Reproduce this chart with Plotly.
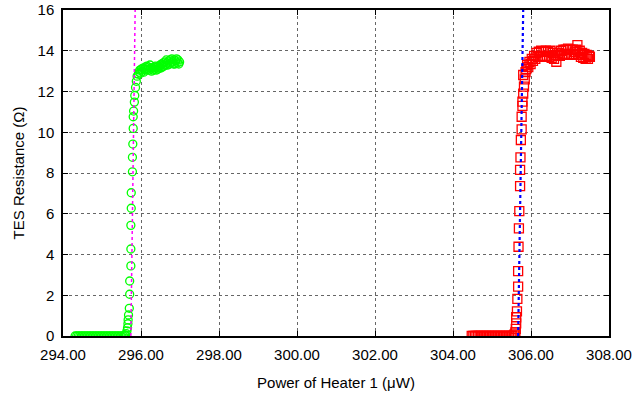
import plotly.graph_objects as go

# ---- Data: heater 1 sweep, first TES (green circles) ----
green_x = [294.31, 294.35, 294.39, 294.43, 294.47, 294.51, 294.55, 294.59, 294.63, 294.67,
           294.71, 294.75, 294.79, 294.83, 294.87, 294.91, 294.95, 294.99, 295.03, 295.07,
           295.11, 295.15, 295.19, 295.23, 295.27, 295.31, 295.35, 295.39, 295.43, 295.47,
           295.51, 295.55, 295.58, 295.60, 295.62, 295.64, 295.655, 295.665, 295.67, 295.68,
           295.70, 295.71, 295.71, 295.74, 295.74, 295.74, 295.75, 295.75, 295.78, 295.78,
           295.79, 295.80, 295.80, 295.81, 295.83, 295.84, 295.86, 295.88, 295.90, 295.93,
           295.95, 295.97, 295.99, 296.01, 296.03, 296.05, 296.07, 296.09, 296.11, 296.13,
           296.15, 296.17, 296.19, 296.21, 296.23, 296.25, 296.27, 296.29, 296.31, 296.33,
           296.35, 296.37, 296.39, 296.41, 296.43, 296.45, 296.47, 296.49, 296.51, 296.53,
           296.55, 296.57, 296.59, 296.61, 296.63, 296.65, 296.67, 296.69, 296.71, 296.73,
           296.75, 296.77, 296.79, 296.81, 296.83, 296.85, 296.87, 296.89, 296.91, 296.93,
           296.95, 296.97, 296.99]
green_r = [0, 0, 0, 0, 0, 0, 0, 0, 0, 0,
           0, 0, 0, 0, 0, 0, 0, 0, 0, 0,
           0, 0, 0, 0, 0, 0, 0, 0, 0, 0,
           0, 0.01, 0.03, 0.06, 0.12, 0.25, 0.4, 0.6, 0.79, 1.03,
           1.36, 2.05, 2.70, 3.44, 4.27, 5.43, 6.27, 7.03, 8.06, 8.77,
           9.42, 10.19, 10.76, 11.04, 11.48, 11.8, 12.2, 12.5, 12.75, 12.85,
           12.95, 13.05, 12.9, 13.1, 13.0, 13.15, 12.95, 13.1, 13.2, 13.05,
           13.25, 13.1, 13.2, 13.05, 13.3, 13.15, 13.0, 13.15, 13.05, 13.2,
           13.1, 13.25, 13.05, 13.2, 13.1, 13.25, 13.15, 13.3, 13.15, 13.35,
           13.2, 13.4, 13.25, 13.45, 13.3, 13.55, 13.4, 13.3, 13.5, 13.35,
           13.55, 13.4, 13.6, 13.45, 13.35, 13.55, 13.35, 13.5, 13.6, 13.4,
           13.55, 13.35, 13.45]

# ---- Data: second TES (red squares) ----
red_x = [304.48, 304.52, 304.56, 304.60, 304.64, 304.68, 304.72, 304.76, 304.80, 304.84,
         304.88, 304.92, 304.96, 305.00, 305.04, 305.08, 305.12, 305.16, 305.20, 305.24,
         305.28, 305.32, 305.36, 305.40, 305.44, 305.48, 305.52, 305.56, 305.58, 305.60,
         305.61, 305.62, 305.62, 305.64, 305.65, 305.67, 305.67, 305.68, 305.69, 305.70,
         305.72, 305.72, 305.73, 305.74, 305.76, 305.76, 305.78, 305.78, 305.80, 305.82,
         305.80, 305.84, 305.86, 305.88, 305.90, 305.93, 305.96, 305.99, 306.02, 306.05,
         306.08, 306.11, 306.14, 306.17, 306.20, 306.23, 306.26, 306.29, 306.32, 306.35,
         306.38, 306.41, 306.44, 306.47, 306.50, 306.53, 306.56, 306.59, 306.62, 306.65,
         306.68, 306.71, 306.74, 306.77, 306.80, 306.83, 306.86, 306.89, 306.92, 306.95,
         306.98, 307.01, 307.04, 307.07, 307.10, 307.13, 307.16, 307.19, 307.22, 307.25,
         307.28, 307.31, 307.34, 307.37, 307.40, 307.43, 307.46, 307.49, 307.51]
red_r = [0, 0, 0, 0, 0, 0, 0, 0, 0, 0,
         0, 0, 0, 0, 0, 0, 0, 0, 0, 0,
         0, 0, 0, 0, 0, 0, 0.01, 0.03, 0.08, 0.18,
         0.35, 0.62, 0.92, 1.21, 1.82, 2.42, 3.18, 4.38, 5.28, 6.13,
         7.36, 8.15, 8.77, 9.62, 10.14, 10.76, 11.29, 11.5, 11.9, 12.24,
         12.81, 12.6, 12.95, 13.1, 13.3, 13.2, 13.45, 13.35, 13.6, 13.5,
         13.75, 13.6, 13.9, 13.7, 13.95, 13.7, 14.0, 13.75, 13.95, 13.7,
         14.0, 13.75, 13.95, 13.7, 14.0, 13.65, 13.9, 13.6, 13.8, 13.46,
         13.75, 13.9, 13.75, 14.0, 13.8, 14.05, 13.85, 14.05, 13.8, 14.1,
         13.85, 14.05, 13.8, 14.05, 13.85, 13.95, 14.05, 14.28, 13.8, 14.0,
         13.7, 13.9, 13.65, 13.85, 13.6, 13.8, 13.6, 13.75, 13.7]

# ---- Fit lines (transition slopes) ----
fit1_x = [295.74, 295.85]
fit1_r = [0, 16]
fit2_x = [305.67, 305.80]
fit2_r = [0, 16]

x_ticks = [294, 296, 298, 300, 302, 304, 306, 308]
x_tick_labels = ["294.00", "296.00", "298.00", "300.00", "302.00", "304.00", "306.00", "308.00"]
y_ticks = [0, 2, 4, 6, 8, 10, 12, 14, 16]

fig = go.Figure()
fig.add_trace(go.Scatter(x=green_x, y=green_r, mode="markers",
                         marker=dict(symbol="circle-open", size=8, color="#00ff00",
                                     line=dict(width=1.3, color="#00ff00"))))
fig.add_trace(go.Scatter(x=red_x, y=red_r, mode="markers",
                         marker=dict(symbol="square-open", size=9, color="#ff0000",
                                     line=dict(width=1.3, color="#ff0000"))))
fig.add_trace(go.Scatter(x=fit1_x, y=fit1_r, mode="lines",
                         line=dict(color="#ff00ff", width=1.5, dash="dot")))
fig.add_trace(go.Scatter(x=fit2_x, y=fit2_r, mode="lines",
                         line=dict(color="#0000ff", width=2.2, dash="dot")))

font = "Liberation Sans, Arial, Helvetica, sans-serif"
fig.update_layout(
    width=635, height=395,
    margin=dict(l=63, r=26, t=10, b=59, autoexpand=False),
    paper_bgcolor="white", plot_bgcolor="white",
    showlegend=False,
    font=dict(family=font, size=15, color="black"),
    xaxis=dict(range=[294, 308], tickvals=x_ticks, ticktext=x_tick_labels,
               ticks="inside", ticklen=5, tickcolor="black", mirror="ticks",
               showline=True, linecolor="black", linewidth=1.5,
               showgrid=True, gridcolor="#666666", griddash="dot", gridwidth=1,
               zeroline=False, automargin=False, ticklabelstandoff=4,
               title=dict(text="Power of Heater 1 (\u03bcW)", font=dict(size=15), standoff=16)),
    yaxis=dict(range=[0, 16], tickvals=y_ticks,
               ticks="inside", ticklen=5, tickcolor="black", mirror="ticks",
               showline=True, linecolor="black", linewidth=1.5,
               showgrid=True, gridcolor="#666666", griddash="dot", gridwidth=1,
               zeroline=False, automargin=False, ticklabelstandoff=4,
               title=dict(text="TES Resistance (\u03a9)", font=dict(size=15), standoff=9)),
)

fig.write_html("out.html", config={"displayModeBar": False},
               post_script="document.body.style.margin='0';")
